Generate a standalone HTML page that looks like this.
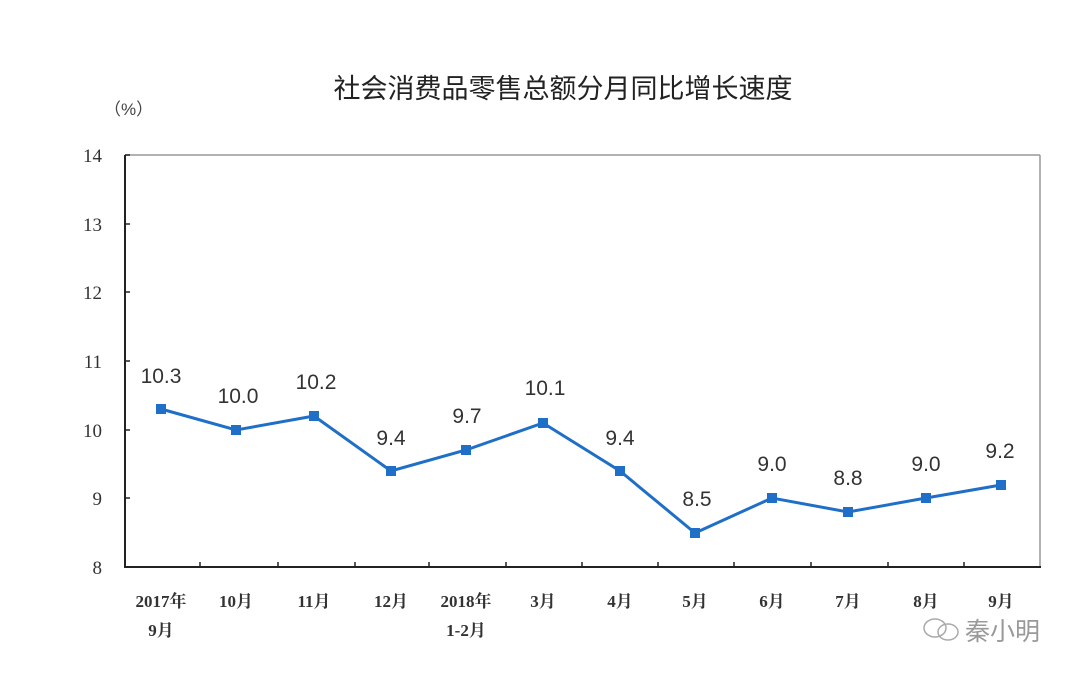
<!DOCTYPE html>
<html><head><meta charset="utf-8"><style>body{margin:0;background:#fff}</style></head><body>
<svg width="1080" height="677" xmlns="http://www.w3.org/2000/svg" font-family="'Liberation Serif','Noto Serif CJK SC',serif">
<rect width="1080" height="677" fill="#fff"/>
<text x="563" y="98" font-size="27" text-anchor="middle" font-family="'Liberation Sans','Noto Sans CJK SC',sans-serif" fill="#222">社会消费品零售总额分月同比增长速度</text>
<text x="104" y="115" font-size="17" fill="#444" font-family="'Liberation Sans','Noto Sans CJK SC',sans-serif">（%）</text>
<line x1="125" y1="155" x2="1040" y2="155" stroke="#999" stroke-width="1.5"/>
<line x1="1040" y1="155" x2="1040" y2="567" stroke="#999" stroke-width="1.5"/>
<line x1="125" y1="155" x2="125" y2="567" stroke="#222" stroke-width="2"/>
<line x1="124" y1="567" x2="1041" y2="567" stroke="#222" stroke-width="2"/>
<g stroke="#222" stroke-width="1.5">
<line x1="125" y1="155" x2="130" y2="155"/><line x1="125" y1="224" x2="130" y2="224"/><line x1="125" y1="292" x2="130" y2="292"/><line x1="125" y1="361" x2="130" y2="361"/><line x1="125" y1="430" x2="130" y2="430"/><line x1="125" y1="498" x2="130" y2="498"/>
<line x1="200" y1="567" x2="200" y2="562"/><line x1="278" y1="567" x2="278" y2="562"/><line x1="355" y1="567" x2="355" y2="562"/><line x1="429" y1="567" x2="429" y2="562"/><line x1="506" y1="567" x2="506" y2="562"/><line x1="582" y1="567" x2="582" y2="562"/><line x1="658" y1="567" x2="658" y2="562"/><line x1="734" y1="567" x2="734" y2="562"/><line x1="811" y1="567" x2="811" y2="562"/><line x1="888" y1="567" x2="888" y2="562"/><line x1="964" y1="567" x2="964" y2="562"/>
</g>
<g font-size="19" fill="#333" text-anchor="end">
<text x="102" y="162">14</text><text x="102" y="231">13</text><text x="102" y="299">12</text><text x="102" y="368">11</text><text x="102" y="437">10</text><text x="102" y="505">9</text><text x="102" y="574">8</text>
</g>
<g font-size="17" fill="#333" text-anchor="middle" font-weight="bold">
<text x="161" y="607">2017年</text><text x="161" y="636">9月</text>
<text x="236" y="607">10月</text><text x="314" y="607">11月</text><text x="391" y="607">12月</text>
<text x="466" y="607">2018年</text><text x="466" y="636">1-2月</text>
<text x="543" y="607">3月</text><text x="620" y="607">4月</text><text x="695" y="607">5月</text><text x="772" y="607">6月</text><text x="848" y="607">7月</text><text x="926" y="607">8月</text><text x="1001" y="607">9月</text>
</g>
<polyline fill="none" stroke="#1f6fc9" stroke-width="3" points="161,409 236,430 314,416 391,471 466,450 543,423 620,471 695,533 772,498 848,512 926,498 1001,485"/>
<g fill="#1f6fc9">
<rect x="156" y="404" width="10" height="10"/><rect x="231" y="425" width="10" height="10"/><rect x="309" y="411" width="10" height="10"/><rect x="386" y="466" width="10" height="10"/><rect x="461" y="445" width="10" height="10"/><rect x="538" y="418" width="10" height="10"/><rect x="615" y="466" width="10" height="10"/><rect x="690" y="528" width="10" height="10"/><rect x="767" y="493" width="10" height="10"/><rect x="843" y="507" width="10" height="10"/><rect x="921" y="493" width="10" height="10"/><rect x="996" y="480" width="10" height="10"/>
</g>
<g font-size="21" fill="#333" text-anchor="middle" font-family="'Liberation Sans',sans-serif">
<text x="161" y="383">10.3</text><text x="238" y="403">10.0</text><text x="316" y="389">10.2</text><text x="391" y="445">9.4</text><text x="467" y="423">9.7</text><text x="545" y="395">10.1</text><text x="620" y="445">9.4</text><text x="697" y="506">8.5</text><text x="772" y="471">9.0</text><text x="848" y="485">8.8</text><text x="926" y="471">9.0</text><text x="1000" y="458">9.2</text>
</g>
<g stroke="#aaa" fill="none" stroke-width="1.5">
<ellipse cx="935" cy="628" rx="11" ry="9"/><ellipse cx="948" cy="632" rx="10" ry="8"/>
</g>
<text x="965" y="640" font-size="25" fill="#999" font-family="'Liberation Sans','Noto Sans CJK SC',sans-serif">秦小明</text>
</svg>
</body></html>
